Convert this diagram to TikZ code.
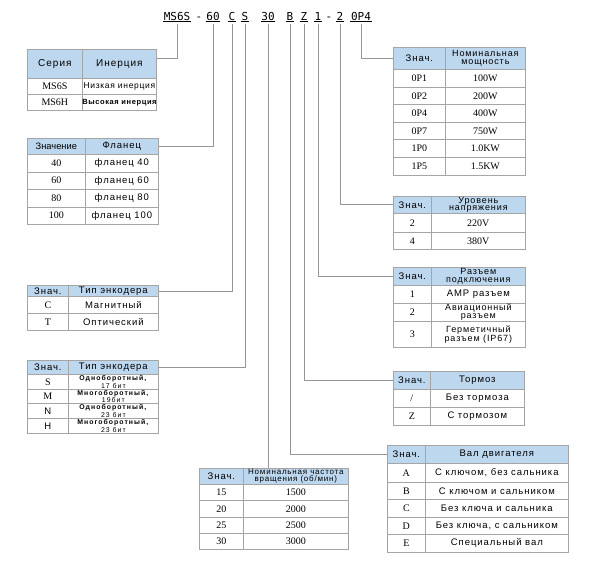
\documentclass[tikz,border=0pt]{standalone}
\usepackage{fontspec}
\setmainfont{Liberation Sans}
\newfontfamily\rsf[LetterSpace=10]{Liberation Sans}
\newfontfamily\rsw[LetterSpace=15]{Liberation Sans}
\newfontfamily\rsg[LetterSpace=8]{Liberation Sans}
\newfontfamily\rsn{Liberation Sans}
\newfontfamily\tmf{Liberation Serif}
\newfontfamily\monof{DejaVu Sans Mono}
\definecolor{hdr}{RGB}{189,215,238}
\definecolor{grid}{RGB}{165,165,165}
\definecolor{lnk}{RGB}{150,150,150}
\newcommand\cel[7]{\node[#6, minimum width={(#4-#2)*1pt}, minimum height={(#5-#3)*1pt}] (#1) at (#2,#3) {#7};}
\newcommand\lab[3]{\node[toplab] (#1) at (#2,20) {#3};
  \draw[line width=0.6pt] ([yshift=-1.7pt]#1.base west) -- ([yshift=-1.7pt]#1.base east);}
\begin{document}
\begin{tikzpicture}[x=1pt,y=-1pt,
  cell/.style={draw=grid, line width=0.7pt, inner sep=0pt, align=center, anchor=north west, fill=white},
  hcell/.style={cell, fill=hdr},
  conn/.style={draw=lnk, line width=0.7pt},
  sfh/.style={font=\rsf\fontsize{10}{9}\selectfont},
  sf/.style={font=\rsf\fontsize{9.5}{8}\selectfont},
  sft/.style={font=\rsf\fontsize{9}{7.6}\selectfont},
  sfe/.style={font=\rsw\fontsize{6.9}{6.1}\selectfont},
  rm/.style={font=\tmf\fontsize{10}{10}\selectfont},
  toplab/.style={font=\monof\fontsize{11}{11}\selectfont, anchor=base, inner sep=0.5pt},
]
\path[fill=white] (0,0) rectangle (599,566);
\useasboundingbox (0,0) rectangle (599,566);

% top code
\lab{lMS}{177}{MS6S}
\node[toplab] (d1) at (199,20) {-};
\lab{l60}{213}{60}
\lab{lC}{232}{C}
\lab{lS}{245}{S}
\lab{l30}{268}{30}
\lab{lB}{290}{B}
\lab{lZ}{304}{Z}
\lab{l1}{318}{1}
\node[toplab] (d2) at (329,20) {-};
\lab{l2}{340}{2}
\lab{lP}{361}{0P4}

% connectors
\draw[conn] ([yshift=-4pt]lMS.base) -- (177,58) -- (156,58);
\draw[conn] ([yshift=-4pt]l60.base) |- (158,146);
\draw[conn] ([yshift=-4pt]lC.base) |- (158,291);
\draw[conn] ([yshift=-4pt]lS.base) |- (158,367);
\draw[conn] ([yshift=-4pt]l30.base) -- (268,468);
\draw[conn] ([yshift=-4pt]lB.base) |- (387,454);
\draw[conn] ([yshift=-4pt]lZ.base) |- (393,380);
\draw[conn] ([yshift=-4pt]l1.base) |- (393,276);
\draw[conn] ([yshift=-4pt]l2.base) |- (393,204.5);
\draw[conn] ([yshift=-4pt]lP.base) |- (393,58);

% series
\cel{sH1}{27}{49}{82}{78}{hcell,sfh}{Серия}
\cel{sH2}{82}{49}{156}{78}{hcell,sfh}{Инерция}
\cel{s11}{27}{78}{82}{94}{cell,rm}{MS6S}
\cel{s12}{82}{78}{156}{94}{cell,font=\rsg\fontsize{8.5}{8}\selectfont}{Низкая инерция}
\cel{s21}{27}{94}{82}{110}{cell,rm}{MS6H}
\cel{s22}{82}{94}{156}{110}{cell,font=\rsg\bfseries\fontsize{7.5}{7}\selectfont}{Высокая инерция}

% flange
\cel{fH1}{27}{138}{85}{154}{hcell,font=\rsn\fontsize{9.3}{8}\selectfont}{Значение}
\cel{fH2}{85}{138}{158}{154}{hcell,sf}{Фланец}
\cel{f11}{27}{154}{85}{171.5}{cell,rm}{40}
\cel{f12}{85}{154}{158}{171.5}{cell,sf}{фланец 40}
\cel{f21}{27}{171.5}{85}{189}{cell,rm}{60}
\cel{f22}{85}{171.5}{158}{189}{cell,sf}{фланец 60}
\cel{f31}{27}{189}{85}{206.5}{cell,rm}{80}
\cel{f32}{85}{189}{158}{206.5}{cell,sf}{фланец 80}
\cel{f41}{27}{206.5}{85}{224}{cell,rm}{100}
\cel{f42}{85}{206.5}{158}{224}{cell,sf}{фланец 100}

% encoder 1
\cel{aH1}{27}{285}{68}{296}{hcell,sf}{Знач.}
\cel{aH2}{68}{285}{158}{296}{hcell,sf}{Тип энкодера}
\cel{a11}{27}{296}{68}{313}{cell,rm}{C}
\cel{a12}{68}{296}{158}{313}{cell,sf}{Магнитный}
\cel{a21}{27}{313}{68}{330}{cell,rm}{T}
\cel{a22}{68}{313}{158}{330}{cell,sf}{Оптический}

% encoder 2
\cel{bH1}{27}{360}{68}{374}{hcell,sf}{Знач.}
\cel{bH2}{68}{360}{158}{374}{hcell,sf}{Тип энкодера}
\cel{b11}{27}{374}{68}{389}{cell,rm}{S}
\cel{b12}{68}{374}{158}{389}{cell,sfe}{\textbf{Одноборотный,}\\17 бит}
\cel{b21}{27}{389}{68}{403}{cell,rm}{M}
\cel{b22}{68}{389}{158}{403}{cell,sfe}{\textbf{Многоборотный,}\\19бит}
\cel{b31}{27}{403}{68}{418}{cell,sf}{N}
\cel{b32}{68}{403}{158}{418}{cell,sfe}{\textbf{Одноборотный,}\\23 бит}
\cel{b41}{27}{418}{68}{433}{cell,sf}{H}
\cel{b42}{68}{418}{158}{433}{cell,sfe}{\textbf{Многоборотный,}\\23 бит}

% power
\cel{pH1}{393}{47}{445}{69}{hcell,sf}{Знач.}
\cel{pH2}{445}{47}{525}{69}{hcell,sft}{Номинальная\\мощность}
\cel{p11}{393}{69}{445}{87}{cell,rm}{0P1}
\cel{p12}{445}{69}{525}{87}{cell,rm}{100W}
\cel{p21}{393}{87}{445}{104}{cell,rm}{0P2}
\cel{p22}{445}{87}{525}{104}{cell,rm}{200W}
\cel{p31}{393}{104}{445}{122}{cell,rm}{0P4}
\cel{p32}{445}{104}{525}{122}{cell,rm}{400W}
\cel{p41}{393}{122}{445}{139}{cell,rm}{0P7}
\cel{p42}{445}{122}{525}{139}{cell,rm}{750W}
\cel{p51}{393}{139}{445}{157}{cell,rm}{1P0}
\cel{p52}{445}{139}{525}{157}{cell,rm}{1.0KW}
\cel{p61}{393}{157}{445}{175}{cell,rm}{1P5}
\cel{p62}{445}{157}{525}{175}{cell,rm}{1.5KW}

% voltage
\cel{vH1}{393}{196}{431}{213}{hcell,sf}{Знач.}
\cel{vH2}{431}{196}{525}{213}{hcell,sft}{Уровень\\напряжения}
\cel{v11}{393}{213}{431}{232}{cell,rm}{2}
\cel{v12}{431}{213}{525}{232}{cell,rm}{220V}
\cel{v21}{393}{232}{431}{249}{cell,rm}{4}
\cel{v22}{431}{232}{525}{249}{cell,rm}{380V}

% connector
\cel{cH1}{393}{267}{431}{285}{hcell,sf}{Знач.}
\cel{cH2}{431}{267}{525}{285}{hcell,sft}{Разъем\\подключения}
\cel{c11}{393}{285}{431}{303}{cell,rm}{1}
\cel{c12}{431}{285}{525}{303}{cell,sf}{AMP разъем}
\cel{c21}{393}{303}{431}{321}{cell,rm}{2}
\cel{c22}{431}{303}{525}{321}{cell,sft}{Авиационный\\разъем}
\cel{c31}{393}{321}{431}{347}{cell,rm}{3}
\cel{c32}{431}{321}{525}{347}{cell,sft}{Герметичный\\разъем (IP67)}

% brake
\cel{rH1}{393}{371}{430}{389}{hcell,sf}{Знач.}
\cel{rH2}{430}{371}{524}{389}{hcell,sf}{Тормоз}
\cel{r11}{393}{389}{430}{407}{cell,rm}{/}
\cel{r12}{430}{389}{524}{407}{cell,sf}{Без тормоза}
\cel{r21}{393}{407}{430}{425}{cell,rm}{Z}
\cel{r22}{430}{407}{524}{425}{cell,sf}{С тормозом}

% shaft
\cel{hH1}{387}{445}{425}{463}{hcell,sf}{Знач.}
\cel{hH2}{425}{445}{568}{463}{hcell,sf}{Вал двигателя}
\cel{h11}{387}{463}{425}{482}{cell,rm}{A}
\cel{h12}{425}{463}{568}{482}{cell,sf}{С ключом, без сальника}
\cel{h21}{387}{482}{425}{499}{cell,rm}{B}
\cel{h22}{425}{482}{568}{499}{cell,sf}{С ключом и сальником}
\cel{h31}{387}{499}{425}{517}{cell,rm}{C}
\cel{h32}{425}{499}{568}{517}{cell,sf}{Без ключа и сальника}
\cel{h41}{387}{517}{425}{534}{cell,rm}{D}
\cel{h42}{425}{517}{568}{534}{cell,sf}{Без ключа, с сальником}
\cel{h51}{387}{534}{425}{552}{cell,rm}{E}
\cel{h52}{425}{534}{568}{552}{cell,sf}{Специальный вал}

% speed
\cel{tH1}{199}{468}{243}{484}{hcell,sf}{Знач.}
\cel{tH2}{243}{468}{348}{484}{hcell,font=\rsf\fontsize{8}{6.8}\selectfont}{Номинальная частота\\вращения (об/мин)}
\cel{t11}{199}{484}{243}{500}{cell,rm}{15}
\cel{t12}{243}{484}{348}{500}{cell,rm}{1500}
\cel{t21}{199}{500}{243}{517}{cell,rm}{20}
\cel{t22}{243}{500}{348}{517}{cell,rm}{2000}
\cel{t31}{199}{517}{243}{533}{cell,rm}{25}
\cel{t32}{243}{517}{348}{533}{cell,rm}{2500}
\cel{t41}{199}{533}{243}{549}{cell,rm}{30}
\cel{t42}{243}{533}{348}{549}{cell,rm}{3000}
\end{tikzpicture}
\end{document}
